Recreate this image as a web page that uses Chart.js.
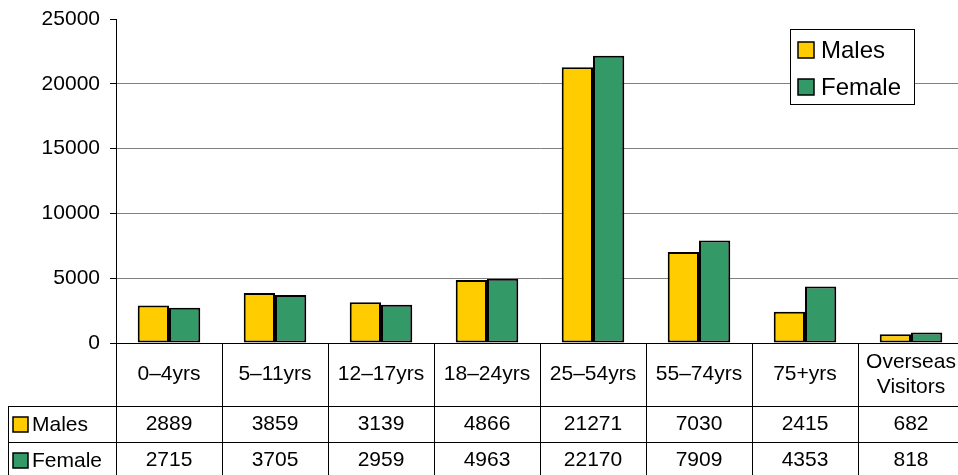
<!DOCTYPE html>
<html>
<head>
<meta charset="utf-8">
<script src="https://cdn.jsdelivr.net/npm/chart.js@4.4.1/dist/chart.umd.min.js"></script>
<style>
  html, body { margin: 0; padding: 0; background: #fff; overflow: hidden; }
  #wrap { width: 958px; height: 475px; overflow: hidden; }
</style>
</head>
<body>
<div id="wrap"><canvas id="grafico" width="966" height="475"></canvas></div>
<script>
// dados
const categorias = ['0–4yrs', '5–11yrs', '12–17yrs', '18–24yrs', '25–54yrs', '55–74yrs', '75+yrs', ['Overseas', 'Visitors']];
const males = [2889, 3859, 3139, 4866, 21271, 7030, 2415, 682];
const female = [2715, 3705, 2959, 4963, 22170, 7909, 4353, 818];
const yMax = 25000;
const yStep = 5000;

const FONTE = "'Liberation Sans', Arial, sans-serif";
const AMARELO = '#FFCC00';
const VERDE = '#339966';

// legenda com moldura dentro da área do gráfico
const legendaPlugin = {
    id: 'legendaBox',
    afterDraw(chart) {
        const ctx = chart.ctx;
        const area = chart.chartArea;
        const bx = area.right - 174, by = area.top + 10, bw = 124, bh = 75;
        ctx.save();
        ctx.fillStyle = '#fff';
        ctx.fillRect(bx, by, bw, bh);
        ctx.strokeStyle = '#000';
        ctx.lineWidth = 1;
        ctx.strokeRect(bx + 0.5, by + 0.5, bw, bh);
        ctx.font = '24px ' + FONTE;
        ctx.textBaseline = 'middle';
        chart.data.datasets.forEach((ds, i) => {
            const cy = by + 21 + i * 37;
            ctx.fillStyle = ds.backgroundColor;
            ctx.fillRect(bx + 8, cy - 8, 16, 16);
            ctx.lineWidth = 1.5;
            ctx.strokeRect(bx + 8, cy - 8, 16, 16);
            ctx.fillStyle = '#000';
            ctx.fillText(ds.label, bx + 31, cy + 1);
        });
        ctx.restore();
    }
};

// tabela de dados embaixo do gráfico
const tabelaPlugin = {
    id: 'tabelaDados',
    afterDraw(chart) {
        const ctx = chart.ctx;
        const area = chart.chartArea;
        const xs = chart.scales.x;
        const n = categorias.length;
        const meia = (xs.getPixelForValue(1) - xs.getPixelForValue(0)) / 2;
        const topo = area.bottom;
        const linha1 = topo + 63;
        const linha2 = linha1 + 36;
        const fim = linha2 + 37;
        const esq = 8;

        ctx.save();
        ctx.strokeStyle = '#000';
        ctx.lineWidth = 1;
        ctx.beginPath();
        ctx.moveTo(area.left - 6, Math.round(topo) + 0.5);
        ctx.lineTo(area.right + 2, Math.round(topo) + 0.5);
        [linha1, linha2].forEach(y => {
            ctx.moveTo(esq, Math.round(y) + 0.5);
            ctx.lineTo(area.right + 2, Math.round(y) + 0.5);
        });
        ctx.moveTo(esq + 0.5, linha1);
        ctx.lineTo(esq + 0.5, fim);
        for (let i = 0; i <= n; i++) {
            const x = Math.round(xs.getPixelForValue(i) - meia) + 0.5;
            ctx.moveTo(x, topo);
            ctx.lineTo(x, fim);
        }
        ctx.stroke();

        ctx.font = '21px ' + FONTE;
        ctx.fillStyle = '#000';
        ctx.textAlign = 'center';
        ctx.textBaseline = 'middle';
        categorias.forEach((c, i) => {
            const x = xs.getPixelForValue(i);
            if (Array.isArray(c)) {
                ctx.fillText(c[0], x, topo + 19);
                ctx.fillText(c[1], x, topo + 44);
            } else {
                ctx.fillText(c, x, topo + 31);
            }
        });

        const linhas = [linha1, linha2];
        chart.data.datasets.forEach((ds, d) => {
            const cy = linhas[d] + 18;
            ds.data.forEach((v, i) => {
                ctx.textAlign = 'center';
                ctx.fillStyle = '#000';
                ctx.fillText(String(v), xs.getPixelForValue(i), cy);
            });
            ctx.fillStyle = ds.backgroundColor;
            ctx.fillRect(13, cy - 7, 15, 15);
            ctx.lineWidth = 1.5;
            ctx.strokeRect(13, cy - 7, 15, 15);
            ctx.fillStyle = '#000';
            ctx.textAlign = 'left';
            ctx.fillText(ds.label, 32, cy + 1);
        });
        ctx.restore();
    }
};

const ctxGrafico = document.getElementById('grafico').getContext('2d');
new Chart(ctxGrafico, {
    type: 'bar',
    data: {
        labels: categorias.map(c => Array.isArray(c) ? c.join(' ') : c),
        datasets: [{
            label: 'Males',
            data: males,
            backgroundColor: AMARELO,
            borderColor: '#000',
            borderWidth: 2,
            borderSkipped: false
        }, {
            label: 'Female',
            data: female,
            backgroundColor: VERDE,
            borderColor: '#000',
            borderWidth: 2,
            borderSkipped: false
        }]
    },
    options: {
        responsive: false,
        animation: false,
        layout: {
            padding: { left: 0, right: 2, top: 19, bottom: 132 }
        },
        datasets: {
            bar: {
                categoryPercentage: 0.59,
                barPercentage: 1
            }
        },
        plugins: {
            legend: { display: false },
            tooltip: { enabled: false }
        },
        scales: {
            x: {
                display: false
            },
            y: {
                min: 0,
                max: yMax,
                afterFit(scale) {
                    scale.width = 116;
                    scale.paddingTop = 0;
                    scale.paddingBottom = 0;
                },
                ticks: {
                    stepSize: yStep,
                    color: '#000',
                    padding: 10,
                    font: { family: FONTE, size: 21 },
                    callback: v => String(v)
                },
                grid: {
                    color: c => (c.tick && (c.tick.value === yMax || c.tick.value === 0)) ? 'rgba(0,0,0,0)' : '#808080',
                    tickColor: '#000',
                    tickLength: 6
                },
                border: { color: '#000', width: 1 }
            }
        }
    },
    plugins: [legendaPlugin, tabelaPlugin]
});
</script>
</body>
</html>
